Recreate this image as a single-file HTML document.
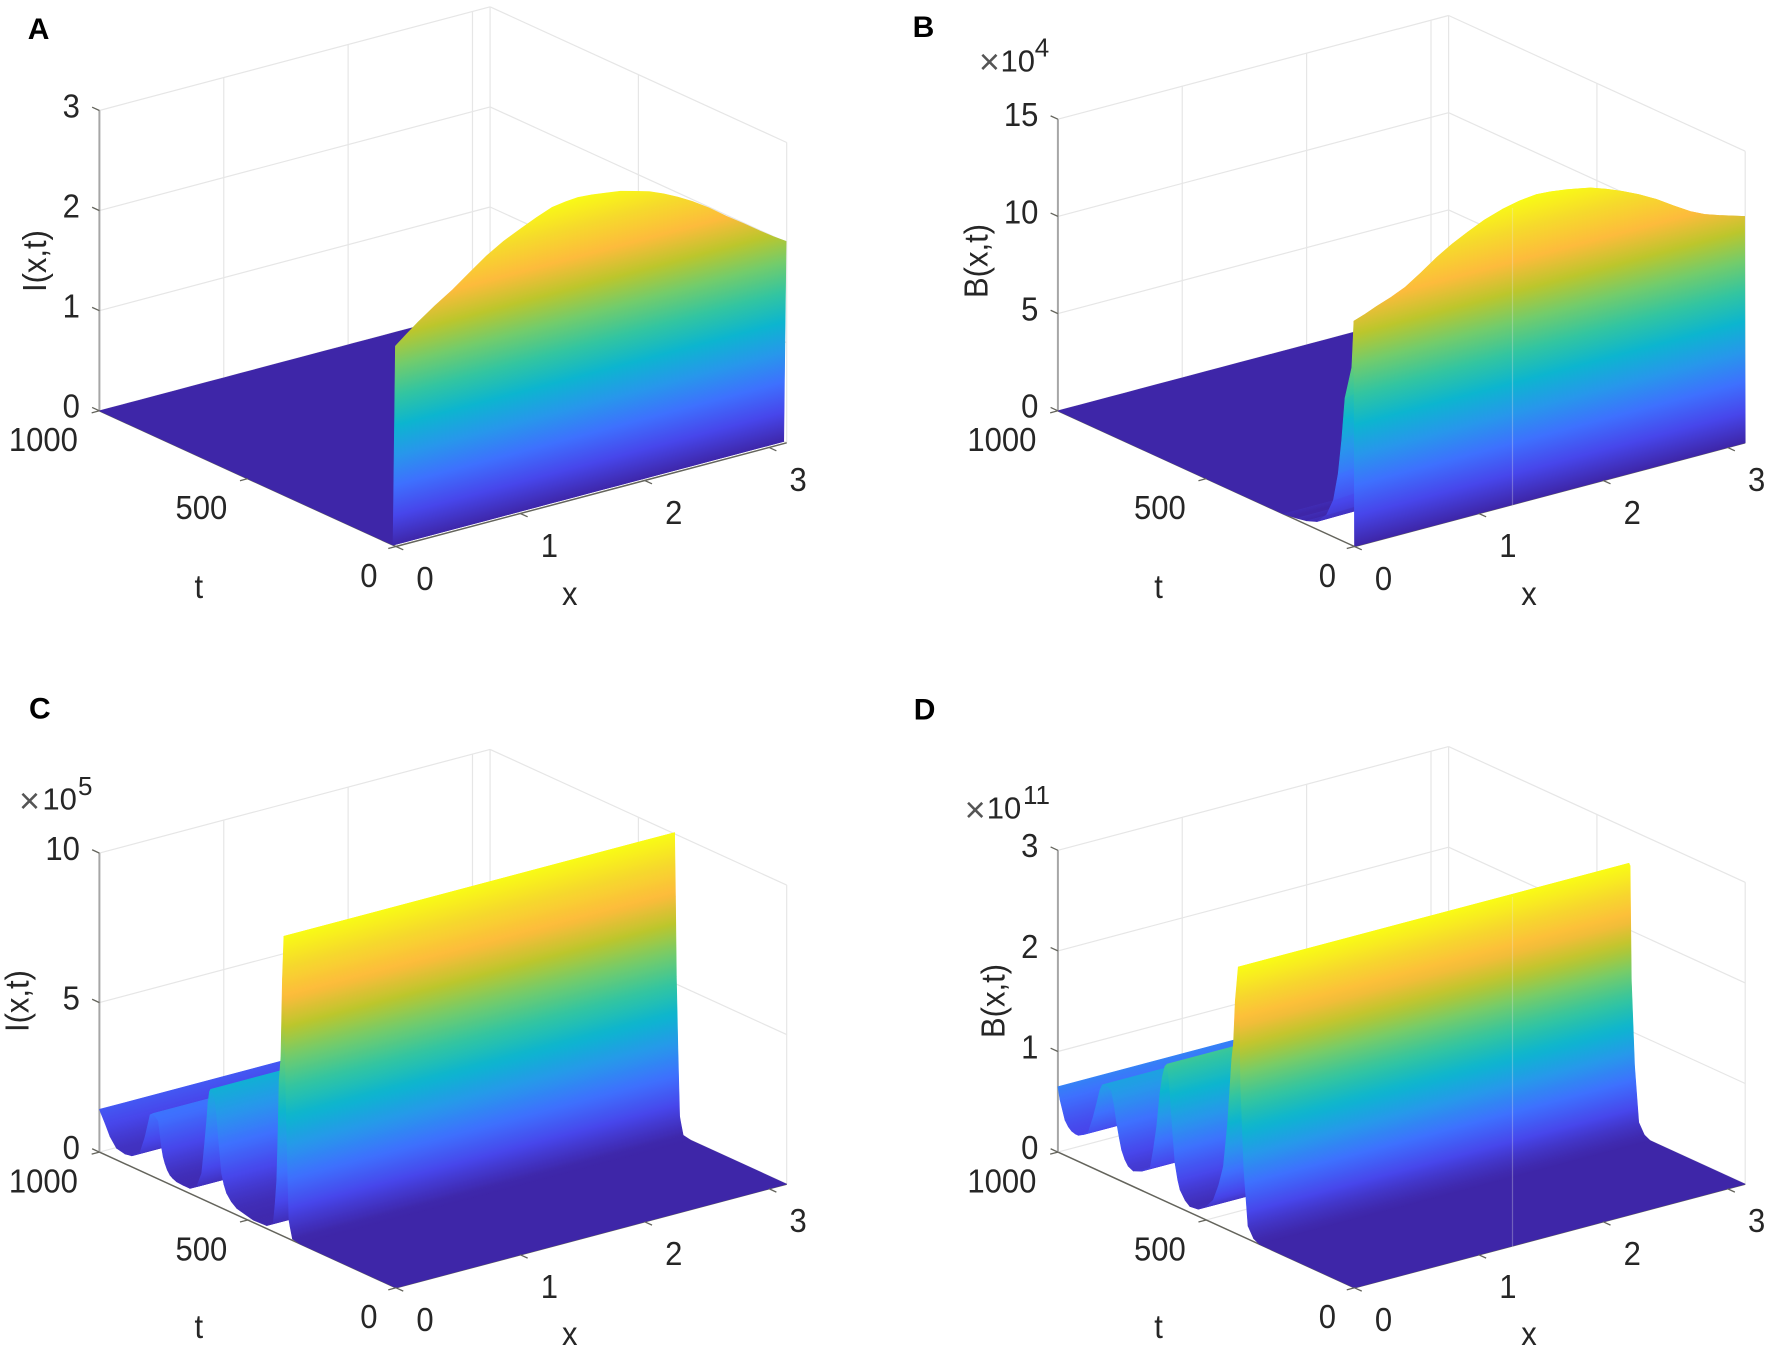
<!DOCTYPE html>
<html lang="en">
<head>
<meta charset="utf-8">
<title>Surface plots of I(x,t) and B(x,t)</title>
<style>
html,body{margin:0;padding:0;background:#fff;}
svg{display:block;}
text{font-family:"Liberation Sans",Arial,sans-serif;fill:#262626;}
.panel-letter{font-weight:bold;font-size:30px;fill:#000;text-anchor:middle;}
.axis-title{font-size:33px;text-anchor:middle;}
.tick{font-size:33px;}
.mult{font-size:31px;text-anchor:middle;}
.mult-x{font-size:36px;text-anchor:middle;fill:#555;}
.mult-exp{font-size:26px;text-anchor:middle;}
</style>
</head>
<body>
<svg id="figure" xmlns="http://www.w3.org/2000/svg" width="1772" height="1353" viewBox="0 0 1772 1353">
  <rect x="0" y="0" width="1772" height="1353" fill="#ffffff"/>
  <defs id="gradients"></defs>

  <g id="panel-a"></g>
  <g id="panel-b"></g>
  <g id="panel-c"></g>
  <g id="panel-d"></g>

  <g>
    <text class="panel-letter" x="38.6" y="39">A</text>
    <text class="axis-title" transform="translate(46 261) rotate(-90) scale(.94 1)">I(x,t)</text>
    <text class="axis-title" transform="translate(198.8 598) scale(.94 1)">t</text>
    <text class="axis-title" transform="translate(569.7 605) scale(.94 1)">x</text>
  </g>
  <g>
    <text class="panel-letter" x="923.5" y="37">B</text>
    <text class="axis-title" transform="translate(987.4 261) rotate(-90) scale(.94 1)">B(x,t)</text>
    <text class="axis-title" transform="translate(1158.6 598) scale(.94 1)">t</text>
    <text class="axis-title" transform="translate(1529 605) scale(.94 1)">x</text>
    <text><tspan class="mult-x" x="989.4" y="74">×</tspan><tspan class="mult" x="1017.8" y="71.4">10</tspan><tspan class="mult-exp" x="1042" y="56.3">4</tspan></text>
  </g>
  <g>
    <text class="panel-letter" x="39.8" y="718.5">C</text>
    <text class="axis-title" transform="translate(28.7 1001) rotate(-90) scale(.94 1)">I(x,t)</text>
    <text class="axis-title" transform="translate(198.8 1338) scale(.94 1)">t</text>
    <text class="axis-title" transform="translate(569.7 1345) scale(.94 1)">x</text>
    <text><tspan class="mult-x" x="29.5" y="813">×</tspan><tspan class="mult" x="59.6" y="809.3">10</tspan><tspan class="mult-exp" x="85.2" y="795.2">5</tspan></text>
  </g>
  <g>
    <text class="panel-letter" x="924.6" y="719.5">D</text>
    <text class="axis-title" transform="translate(1004.5 1001) rotate(-90) scale(.94 1)">B(x,t)</text>
    <text class="axis-title" transform="translate(1158.6 1338) scale(.94 1)">t</text>
    <text class="axis-title" transform="translate(1529 1345) scale(.94 1)">x</text>
    <text><tspan class="mult-x" x="975.2" y="822">×</tspan><tspan class="mult" x="1004" y="818.7">10</tspan><tspan class="mult-exp" x="1036.5" y="803.8">11</tspan></text>
  </g>
</svg>

<script>
// Tick labels
const xTicks = [0, 1, 2, 3];
const tTicks = [0, 500, 1000];
const zTicksA = [0, 1, 2, 3];
const zTicksB = [0, 5, 10, 15];
const zTicksC = [0, 5, 10];
const zTicksD = [0, 1, 2, 3];

// Panel A: profile along x (z values) and shape along t (fraction of profile)
const profileXA = [0, 0.09, 0.183, 0.32, 0.459, 0.6, 0.734, 0.87, 1.009, 1.135, 1.261, 1.37, 1.468, 1.58, 1.697, 1.81, 1.926, 2.04, 2.156, 2.27, 2.385, 2.52, 2.66, 2.8, 2.935, 3.04, 3.1416];
const profileZA = [2.0, 2.09, 2.18, 2.3, 2.41, 2.54, 2.66, 2.76, 2.84, 2.91, 2.97, 2.99, 3.0, 2.99, 2.97, 2.95, 2.91, 2.87, 2.81, 2.74, 2.66, 2.55, 2.42, 2.3, 2.18, 2.09, 2.01];
const timeTA = [1000, 10, 2];
const timeQA = [0, 0, 1];

// Panel B
const profileXB = [0, 0.09, 0.183, 0.3, 0.413, 0.54, 0.665, 0.79, 0.917, 1.05, 1.192, 1.33, 1.468, 1.58, 1.697, 1.8, 1.903, 2.03, 2.156, 2.29, 2.431, 2.57, 2.706, 2.82, 2.935, 3.04, 3.1416];
const profileZB = [11.58, 11.78, 12.03, 12.3, 12.62, 13.15, 13.72, 14.2, 14.61, 15.0, 15.3, 15.5, 15.6, 15.55, 15.45, 15.33, 15.2, 14.92, 14.6, 14.2, 13.72, 13.15, 12.62, 12.28, 12.03, 11.83, 11.63];
const timeTB = [1000, 240, 195, 161, 127, 94, 71, 55, 43, 32, 9, 2, 0];
const timeQB = [0, 0, 0.008, 0.017, 0.034, 0.084, 0.164, 0.29, 0.45, 0.64, 0.79, 1, 0];

// Panel C: uniform along x, series along t in axis units
const profileXC = [0, 3.1416];
const profileZC = [1, 1];
const timeTC = [1000, 981, 964, 942, 914, 891, 863, 846, 829, 819, 801, 790, 785, 779, 771, 762, 752, 740, 718, 695, 672, 655, 647, 638, 634, 629, 625, 617, 610, 604, 599, 593, 588, 580, 571, 555, 537, 481, 436, 414, 408, 402, 398, 394, 388, 383, 378, 375, 372, 367, 361, 357, 349, 324, 0];
const timeQC = [1.43, 1.05, 0.68, 0.39, 0.33, 0.37, 0.6, 1.21, 2.02, 2.11, 1.95, 1.08, 0.82, 0.63, 0.44, 0.31, 0.24, 0.19, 0.17, 0.17, 0.33, 0.86, 1.7, 2.72, 3.3, 3.7, 3.8, 3.75, 3.5, 2.95, 2.33, 1.7, 1.16, 0.82, 0.57, 0.36, 0.22, 0.08, 0.1, 0.28, 0.9, 1.78, 3.3, 5.16, 5.95, 8.59, 10.04, 7.92, 5.26, 2.94, 0.63, 0.42, 0.05, 0, 0];

// Panel D
const profileXD = [0, 3.1416];
const profileZD = [1, 1];
const timeTD = [1000, 993, 976, 965, 953, 942, 931, 914, 897, 881, 870, 858, 850, 841, 830, 819, 810, 802, 793, 785, 774, 763, 746, 718, 689, 678, 667, 656, 648, 639, 632, 627, 622, 613, 605, 596, 588, 571, 555, 527, 500, 476, 458, 442, 428, 414, 408, 402, 392, 388, 384, 373, 359, 340, 320, 0];
const timeQD = [0.65, 0.53, 0.35, 0.3, 0.27, 0.26, 0.26, 0.29, 0.34, 0.51, 0.65, 0.81, 0.87, 0.89, 0.88, 0.85, 0.72, 0.56, 0.42, 0.31, 0.23, 0.18, 0.155, 0.19, 0.26, 0.46, 0.7, 1.05, 1.22, 1.34, 1.37, 1.27, 1.1, 0.72, 0.42, 0.27, 0.18, 0.1, 0.06, 0.07, 0.13, 0.23, 0.4, 0.61, 1.05, 1.71, 1.88, 2.31, 2.66, 2.64, 1.52, 0.67, 0.13, 0.03, 0, 0];

// Colour map stops
const parula = ['#3e26a8', '#4746eb', '#3e70fe', '#2797eb', '#0cb5cf', '#33c5a0', '#72cc6c', '#bcc62c', '#fdbb3c', '#f6d92c', '#f9fb15'];

const SVGNS = 'http://www.w3.org/2000/svg';
const X_MAX = Math.PI;
const T_MAX = 1000;
const VX = [390.7, -103.7];
const VT = [-296.6, -135.7];
const NL = Math.hypot(VX[0], VX[1]);
const NORMAL = [-VX[1] / NL, VX[0] / NL];
const TICK = 8;
const gradDefs = document.getElementById('gradients');
let gradCount = 0;

function make(tag, attrs, parent) {
  const node = document.createElementNS(SVGNS, tag);
  for (const k in attrs) node.setAttribute(k, attrs[k]);
  if (parent) parent.appendChild(node);
  return node;
}

function pt(p) { return p[0].toFixed(2) + ',' + p[1].toFixed(2); }

function hexRgb(h) {
  return [parseInt(h.slice(1, 3), 16), parseInt(h.slice(3, 5), 16), parseInt(h.slice(5, 7), 16)];
}

function colorAt(f) {
  const v = Math.max(0, Math.min(1, f)) * (parula.length - 1);
  const i = Math.min(parula.length - 2, Math.floor(v));
  const a = hexRgb(parula[i]), b = hexRgb(parula[i + 1]);
  const s = v - i;
  return 'rgb(' + a.map((c, k) => Math.round(c + (b[k] - c) * s)).join(',') + ')';
}

function drawPanel(cfg) {
  const root = document.getElementById(cfg.id);
  const key = cfg.key;
  const project = (x, t, z) => [
    cfg.fx + (x / X_MAX) * VX[0] + (t / T_MAX) * VT[0],
    cfg.fy + (x / X_MAX) * VX[1] + (t / T_MAX) * VT[1] - z * cfg.zScale
  ];

  const drawLine = (a, b, stroke, width, parent) => make('line', {
    x1: a[0].toFixed(2), y1: a[1].toFixed(2), x2: b[0].toFixed(2), y2: b[1].toFixed(2),
    stroke: stroke, 'stroke-width': width
  }, parent);

  // Grid on the back walls and floor
  const grid = make('g', {}, root);
  
  
  const gridColor = '#e6e6e6';
  cfg.zTicks.forEach(z => {
    drawLine(project(0, T_MAX, z), project(X_MAX, T_MAX, z), gridColor, 1.2, grid);
    drawLine(project(X_MAX, T_MAX, z), project(X_MAX, 0, z), gridColor, 1.2, grid);
  });
  xTicks.concat(X_MAX).forEach(x => {
    if (x === 0) return;
    drawLine(project(x, T_MAX, 0), project(x, T_MAX, cfg.zBox), gridColor, 1.2, grid);
    drawLine(project(x, 0, 0), project(x, T_MAX, 0), gridColor, 1.2, grid);
  });
  tTicks.forEach(t => {
    if (t === T_MAX || t === 0) return;
    drawLine(project(X_MAX, t, 0), project(X_MAX, t, cfg.zBox), gridColor, 1.2, grid);
    drawLine(project(0, t, 0), project(X_MAX, t, 0), gridColor, 1.2, grid);
  });
  drawLine(project(X_MAX, 0, 0), project(X_MAX, 0, cfg.zBox), gridColor, 1.2, grid);

  // Axis lines
  const axes = make('g', {}, root);
  
  
  const axisColor = '#64645c';
  drawLine(project(0, T_MAX, 0), project(0, 0, 0), axisColor, 1.5, axes);
  drawLine(project(0, 0, 0), project(X_MAX, 0, 0), axisColor, 1.5, axes);
  drawLine(project(0, T_MAX, 0), project(0, T_MAX, cfg.zBox), '#a6a6a6', 2, axes);

  // Surface, painted back to front
  const surface = make('g', {}, root);
  
  
  let zPeak = 0;
  cfg.profileZ.forEach(p => cfg.timeQ.forEach(q => { zPeak = Math.max(zPeak, p * q); }));
  const uniform = cfg.profileZ.every(p => p === cfg.profileZ[0]);
  for (let i = 0; i < cfg.timeT.length - 1; i++) {
    const t1 = cfg.timeT[i], t2 = cfg.timeT[i + 1];
    const q1 = cfg.timeQ[i], q2 = cfg.timeQ[i + 1];
    const points = [];
    cfg.profileX.forEach((x, j) => points.push(pt(project(x, t1, cfg.profileZ[j] * q1))));
    for (let j = cfg.profileX.length - 1; j >= 0; j--) {
      points.push(pt(project(cfg.profileX[j], t2, cfg.profileZ[j] * q2)));
    }
    let paint;
    const stopsN = 12;
    if (q1 === q2 && (uniform || q1 === 0)) {
      paint = colorAt(cfg.profileZ[0] * q1 / zPeak);
    } else if (uniform) {
      const z1 = cfg.profileZ[0] * q1, z2 = cfg.profileZ[0] * q2;
      const p0 = project(0, t1, z1);
      const p1 = project(0, t2, z2);
      const proj = (p1[0] - p0[0]) * NORMAL[0] + (p1[1] - p0[1]) * NORMAL[1];
      if (Math.abs(proj) < 0.05) {
        paint = colorAt((z1 + z2) / 2 / zPeak);
      } else {
        const id = 'band-gradient-' + (gradCount++);
        const grad = make('linearGradient', {
          id: id, gradientUnits: 'userSpaceOnUse',
          x1: p0[0].toFixed(2), y1: p0[1].toFixed(2),
          x2: (p0[0] + NORMAL[0] * proj).toFixed(2), y2: (p0[1] + NORMAL[1] * proj).toFixed(2)
        }, gradDefs);
        for (let s = 0; s <= stopsN; s++) {
          make('stop', { offset: s / stopsN, 'stop-color': colorAt((z1 + (z2 - z1) * s / stopsN) / zPeak) }, grad);
        }
        paint = 'url(#' + id + ')';
      }
    } else {
      const tm = (t1 + t2) / 2;
      const p0 = project(0, tm, 0);
      const p1 = project(0, tm, zPeak);
      const proj = (p1[0] - p0[0]) * NORMAL[0] + (p1[1] - p0[1]) * NORMAL[1];
      const id = 'band-gradient-' + (gradCount++);
      const grad = make('linearGradient', {
        id: id, gradientUnits: 'userSpaceOnUse',
        x1: p0[0].toFixed(2), y1: p0[1].toFixed(2),
        x2: (p0[0] + NORMAL[0] * proj).toFixed(2), y2: (p0[1] + NORMAL[1] * proj).toFixed(2)
      }, gradDefs);
      parula.forEach((c, s) => make('stop', { offset: s / (parula.length - 1), 'stop-color': c }, grad));
      paint = 'url(#' + id + ')';
    }
    const band = make('polygon', { points: points.join(' '), fill: paint, stroke: paint, 'stroke-width': 0.6, 'stroke-linejoin': 'round' }, surface);
    
    
  }

  if (cfg.ghost) {
    const ghost = make('line', {
      x1: cfg.ghost[0], y1: cfg.ghost[1], x2: cfg.ghost[0], y2: cfg.ghost[2],
      stroke: '#e8e8e8', 'stroke-opacity': 0.3, 'stroke-width': 1.2
    }, root);
    
    
  }

  // Ticks and their labels
  const ux = [VX[0] / NL, VX[1] / NL];
  const TL = Math.hypot(VT[0], VT[1]);
  const ut = [VT[0] / TL, VT[1] / TL];
  const addLabel = (value, x, y, anchor, name) => {
    const label = make('text', { class: 'tick', transform: 'translate(' + x.toFixed(2) + ' ' + y.toFixed(2) + ') scale(.94 1)', 'text-anchor': anchor }, root);
    label.textContent = String(value);
    
    
  };
  xTicks.forEach(v => {
    const a = project(v, 0, 0);
    const tick = drawLine(a, [a[0] - ut[0] * TICK, a[1] - ut[1] * TICK], axisColor, 1.3, root);
    
    
    addLabel(v, a[0] + 29, a[1] + 32 + 11.4, 'middle', 'x-tick-label-' + key);
  });
  tTicks.forEach(v => {
    const a = project(0, v, 0);
    const tick = drawLine(a, [a[0] - ux[0] * TICK, a[1] - ux[1] * TICK], axisColor, 1.3, root);
    
    
    const chars = String(v).length;
    addLabel(v, a[0] - 17.5 - chars, a[1] + 29 + 11.4, 'end', 't-tick-label-' + key);
  });
  cfg.zTicks.forEach(v => {
    const a = project(0, T_MAX, v);
    const tick = drawLine(a, [a[0] + ut[0] * TICK, a[1] + ut[1] * TICK], axisColor, 1.3, root);
    
    
    addLabel(v, a[0] - 19.5, a[1] - 4.5 + 11.4, 'end', 'z-tick-label-' + key);
  });
}

drawPanel({ id: 'panel-a', key: 'a', fx: 396, fy: 546.5, zScale: 100.1, zBox: 3, zTicks: zTicksA,
  profileX: profileXA, profileZ: profileZA, timeT: timeTA, timeQ: timeQA });
drawPanel({ id: 'panel-b', key: 'b', fx: 1354.5, fy: 546.5, zScale: 19.44, zBox: 15, zTicks: zTicksB,
  profileX: profileXB, profileZ: profileZB, timeT: timeTB, timeQ: timeQB, ghost: [1512.5, 208, 507] });
drawPanel({ id: 'panel-c', key: 'c', fx: 396, fy: 1287.8, zScale: 29.9, zBox: 10, zTicks: zTicksC,
  profileX: profileXC, profileZ: profileZC, timeT: timeTC, timeQ: timeQC });
drawPanel({ id: 'panel-d', key: 'd', fx: 1354.5, fy: 1287.8, zScale: 100.6, zBox: 3, zTicks: zTicksD,
  profileX: profileXD, profileZ: profileZD, timeT: timeTD, timeQ: timeQD, ghost: [1512.5, 897, 1248] });
</script>
</body>
</html>
